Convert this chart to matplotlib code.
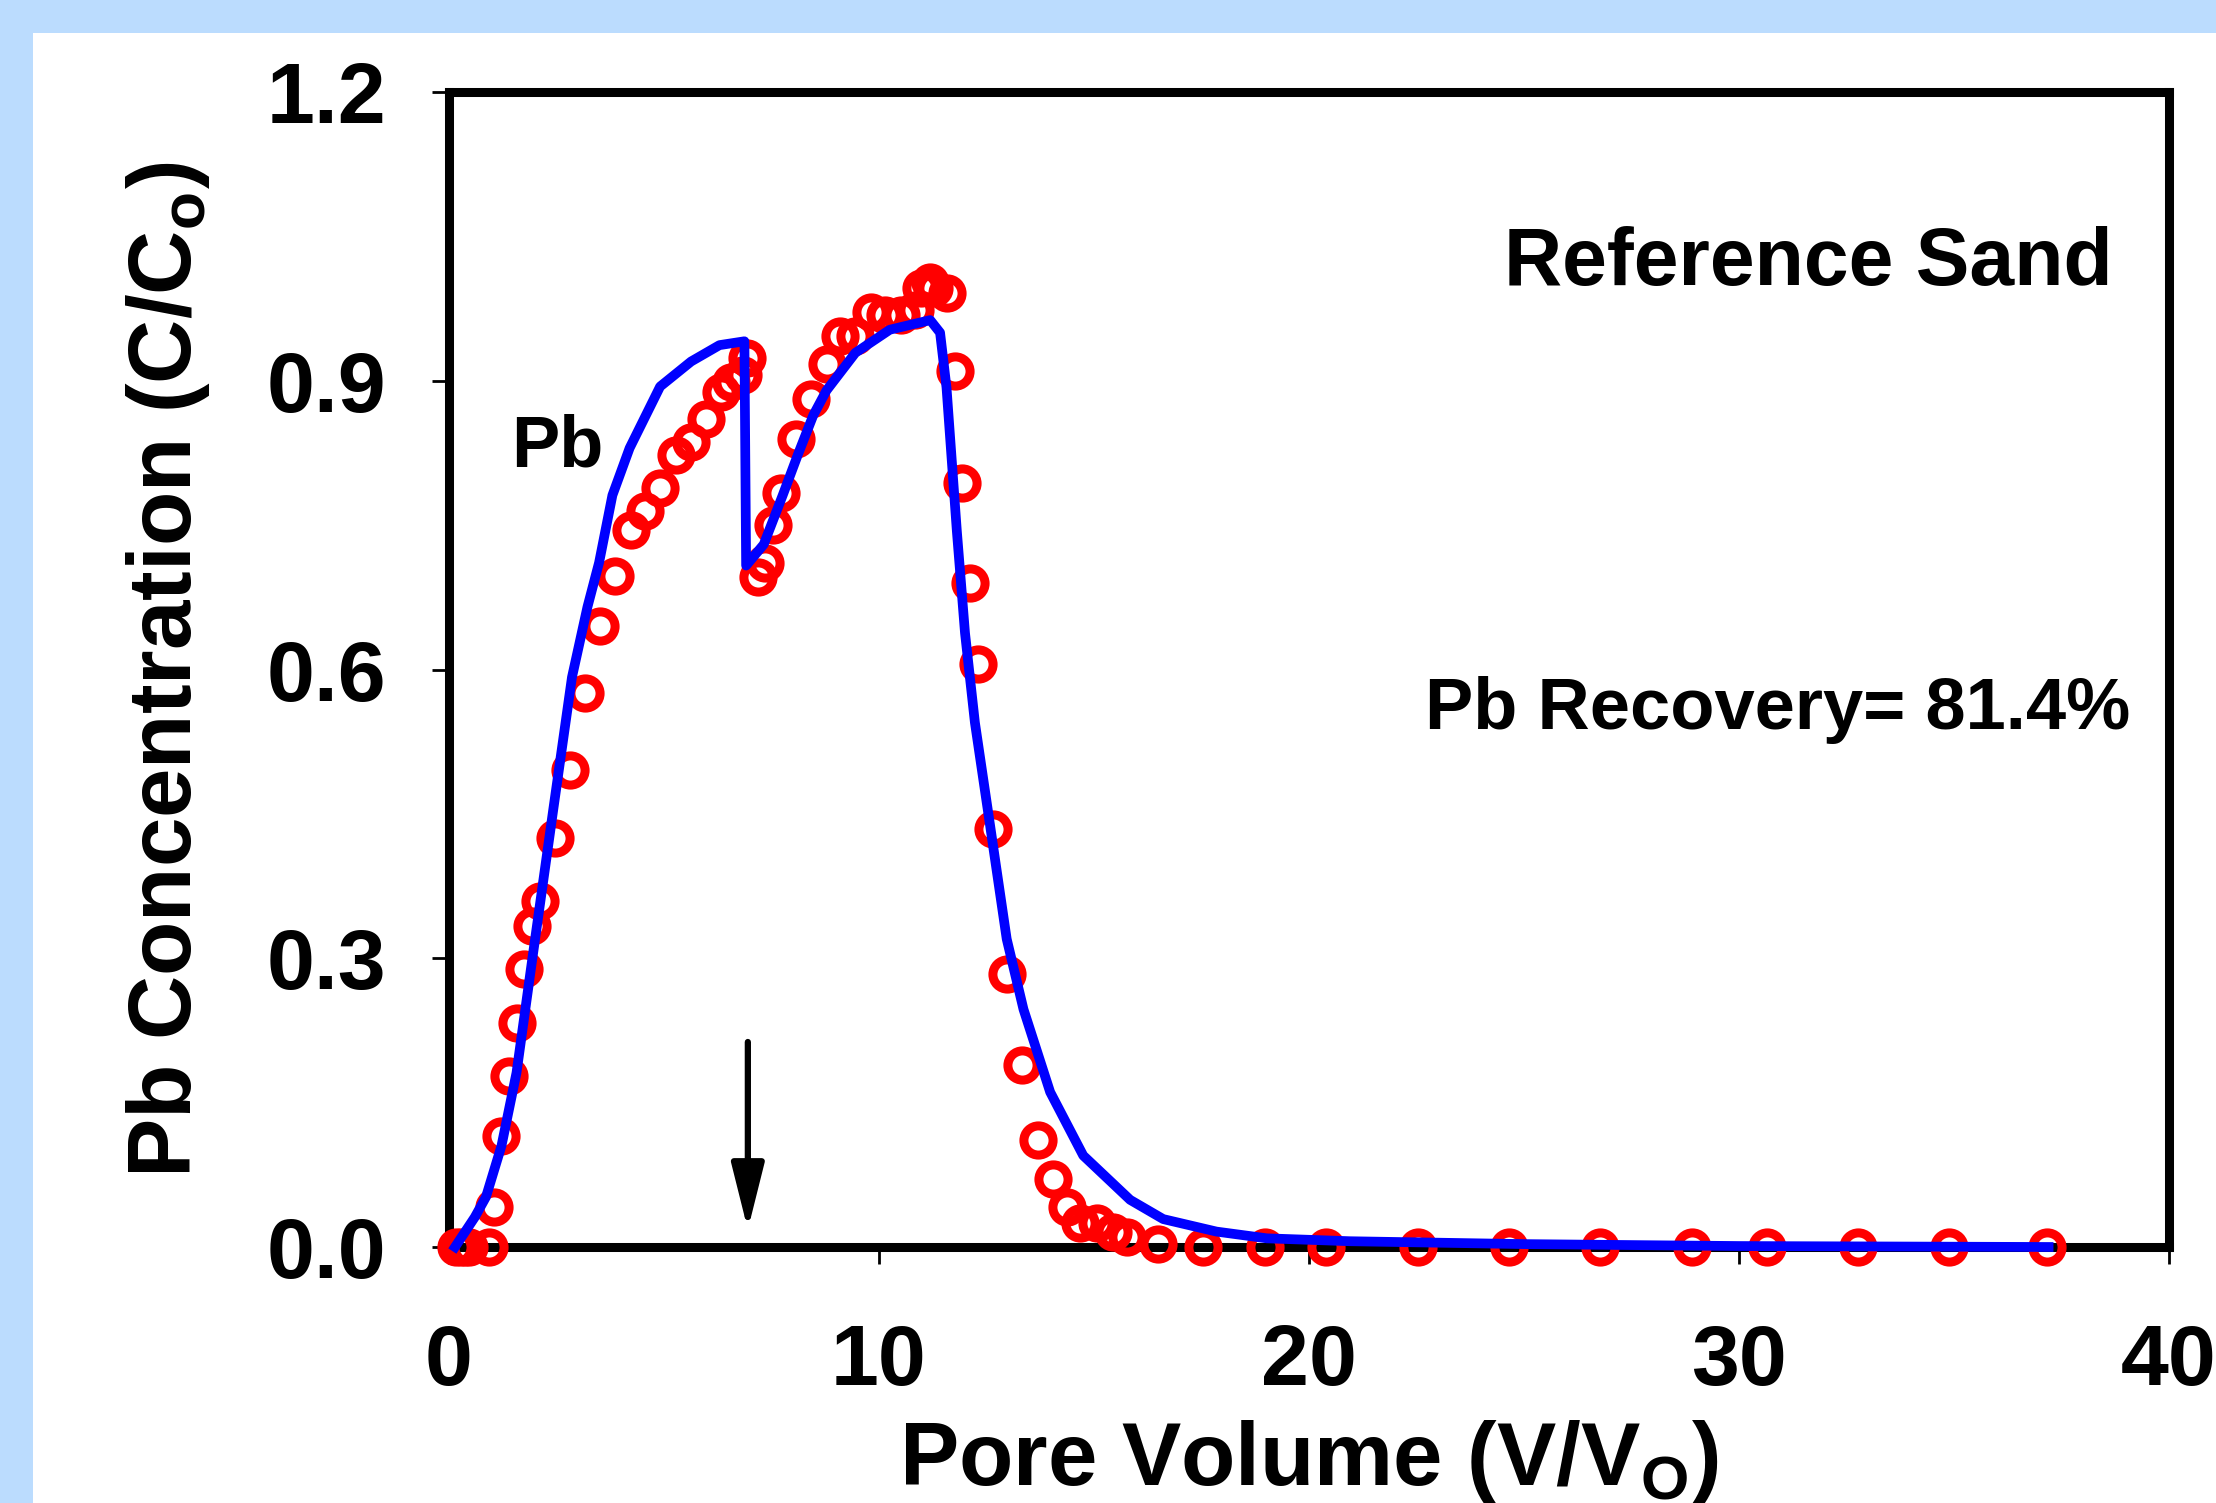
import matplotlib
matplotlib.use('Agg')
import matplotlib.pyplot as plt
from matplotlib.patches import Rectangle

plt.rcParams['font.family'] = ['Liberation Sans', 'DejaVu Sans']
plt.rcParams['font.weight'] = 'bold'
plt.rcParams['mathtext.fontset'] = 'custom'
plt.rcParams['mathtext.rm'] = 'Liberation Sans:bold'
plt.rcParams['mathtext.bf'] = 'Liberation Sans:bold'
plt.rcParams['mathtext.it'] = 'Liberation Sans:bold'

# measured Pb breakthrough (C/Co vs pore volume)
pv_data = [0.17, 0.27, 0.37, 0.47, 0.92,
           1.04, 1.20, 1.39, 1.57, 1.75, 1.93, 2.11, 2.47, 2.82, 3.17, 3.51,
           3.87, 4.23, 4.56, 4.91, 5.27, 5.63, 5.98, 6.32, 6.56, 6.83, 6.92,
           7.18, 7.36, 7.54, 7.72, 8.07, 8.43, 8.78, 9.09, 9.45, 9.81, 10.14,
           10.51, 10.83, 10.97, 11.19, 11.28, 11.57,
           11.77, 11.94, 12.12, 12.30, 12.65, 12.97, 13.32, 13.69, 14.04, 14.37,
           14.67, 15.06, 15.45, 15.76, 16.49,
           17.53, 18.98, 20.39, 22.53, 24.66, 26.76, 28.90, 30.64, 32.77, 34.88, 37.17]
conc_data = [0.0, 0.0, 0.0, 0.0, 0.0,
             0.042, 0.115, 0.178, 0.233, 0.289, 0.333, 0.359, 0.425, 0.496, 0.576, 0.645,
             0.697, 0.745, 0.765, 0.789, 0.823, 0.836, 0.860, 0.888, 0.899, 0.906, 0.924,
             0.696, 0.711, 0.750, 0.783, 0.840, 0.881, 0.917, 0.946, 0.946, 0.971, 0.968,
             0.968, 0.973, 0.996, 1.003, 0.996, 0.991,
             0.910, 0.794, 0.690, 0.606, 0.434, 0.284, 0.189, 0.111, 0.071, 0.042,
             0.025, 0.025, 0.016, 0.010, 0.003,
             0.0, 0.0, 0.0, 0.0, 0.0, 0.0, 0.0, 0.0, 0.0, 0.0, 0.0]

# model fit
pv_model = [0.14, 0.60, 0.86, 1.22, 1.57, 1.93, 2.42, 2.86, 3.22, 3.49, 3.80, 4.20,
            4.91, 5.63, 6.29, 6.87, 6.91, 7.32, 7.76, 8.12, 8.47, 8.78, 9.45, 10.25,
            11.19, 11.42, 11.57, 11.81, 12.00, 12.23, 12.58, 12.97, 13.36, 13.98,
            14.75, 15.84, 16.61, 17.85, 19.02, 20.95, 25.0, 30.0, 37.2]
conc_model = [0.0, 0.031, 0.052, 0.105, 0.181, 0.297, 0.453, 0.592, 0.665, 0.711, 0.781, 0.830,
              0.894, 0.920, 0.937, 0.941, 0.708, 0.730, 0.781, 0.824, 0.864, 0.890, 0.929, 0.953,
              0.963, 0.950, 0.893, 0.744, 0.638, 0.545, 0.439, 0.320, 0.247, 0.161,
              0.095, 0.049, 0.029, 0.016, 0.009, 0.006, 0.003, 0.001, 0.0]

x_ticks = [0, 10, 20, 30, 40]
y_ticks = [0.0, 0.3, 0.6, 0.9, 1.2]
arrow_pv = 6.95

fig = plt.figure(figsize=(22.16, 15.03), dpi=100, facecolor='#BBDCFE')
fig.patches.append(Rectangle((33 / 2216, 0), 1, (1503 - 33) / 1503,
                             transform=fig.transFigure, facecolor='white',
                             edgecolor='none', zorder=-1))

ax = fig.add_axes([449 / 2216, (1503 - 1247) / 1503, 1720 / 2216, 1155 / 1503])
ax.set_facecolor('white')

ax.plot(pv_data, conc_data, linestyle='none', marker='o', markersize=21,
        markerfacecolor='none', markeredgecolor='#FF0000', markeredgewidth=6.5,
        clip_on=False, zorder=3)
ax.plot(pv_model, conc_model, color='#0000FF', linewidth=7, clip_on=False, zorder=4)

ax.annotate('', xy=(arrow_pv, 0.018), xytext=(arrow_pv, 0.213),
            arrowprops=dict(arrowstyle='-|>,head_length=0.8,head_width=0.2',
                            mutation_scale=50, color='black', lw=4.5,
                            shrinkA=0, shrinkB=0))

ax.set_xlim(0, 40)
ax.set_ylim(0, 1.2)
ax.set_xticks(x_ticks)
ax.set_yticks(y_ticks)
ax.set_xticklabels([str(t) for t in x_ticks])
ax.set_yticklabels([f'{t:.1f}' for t in y_ticks])

for s in ax.spines.values():
    s.set_linewidth(6.5)
    s.set_zorder(2.5)

ax.tick_params(axis='both', direction='out', length=12, width=2, labelsize=62)
ax.tick_params(axis='y', pad=33)
ax.tick_params(axis='x', pad=43)

ax.set_xlabel(r'Pore Volume (V/V$_{\mathrm{O}}$)', fontsize=64, fontweight='bold', va='baseline')
ax.xaxis.set_label_coords(0.5, -0.206)
ax.set_ylabel(r'Pb Concentration (C/C$_{\mathrm{o}}$)', fontsize=64, fontweight='bold', va='baseline')
ax.yaxis.set_label_coords(-0.150, 0.5)

ax.text(38.68, 1.021, 'Reference Sand', fontsize=58, fontweight='bold',
        ha='right', va='center')
ax.text(39.1, 0.558, 'Pb Recovery= 81.4%', fontsize=52, fontweight='bold',
        ha='right', va='center')
ax.text(1.45, 0.831, 'Pb', fontsize=52, fontweight='bold', ha='left', va='center')

fig.savefig('out.png', dpi=100, facecolor=fig.get_facecolor())
